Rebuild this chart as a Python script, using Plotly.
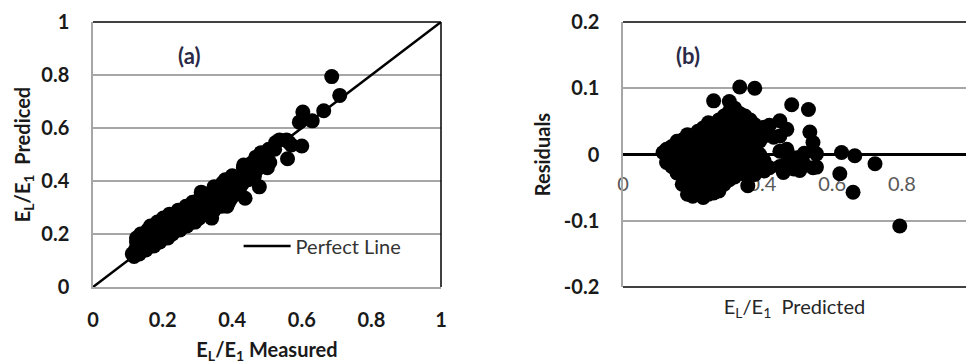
import plotly.graph_objects as go

# Model predictions (E_L/E_1) and residuals (measured - predicted)
predicted = [
    0.115,
    0.125, 0.125,
    0.14, 0.14, 0.14,
    0.155, 0.155, 0.155, 0.155,
    0.17, 0.17, 0.17, 0.17, 0.17,
    0.185, 0.185, 0.185, 0.185, 0.185, 0.185, 0.185,
    0.2, 0.2, 0.2, 0.2, 0.2, 0.2, 0.2,
    0.215, 0.215, 0.215, 0.215, 0.215, 0.215, 0.215,
    0.23, 0.23, 0.23, 0.23, 0.23, 0.23, 0.23, 0.23,
    0.245, 0.245, 0.245, 0.245, 0.245, 0.245, 0.245, 0.245,
    0.26, 0.26, 0.26, 0.26, 0.26, 0.26, 0.26, 0.26,
    0.275, 0.275, 0.275, 0.275, 0.275, 0.275, 0.275,
    0.29, 0.29, 0.29, 0.29, 0.29, 0.29, 0.29,
    0.305, 0.305, 0.305, 0.305, 0.305, 0.305, 0.305, 0.305,
    0.32, 0.32, 0.32, 0.32, 0.32, 0.32, 0.32,
    0.335, 0.335, 0.335, 0.335, 0.335, 0.335, 0.335,
    0.35, 0.35, 0.35, 0.35, 0.35, 0.35,
    0.358,
    0.365, 0.365, 0.365, 0.365, 0.365,
    0.378, 0.378, 0.378, 0.378, 0.378, 0.378,
    0.392, 0.392, 0.392, 0.392,
    0.405, 0.405, 0.405, 0.405,
    0.42, 0.42,
    0.432,
    0.45, 0.45, 0.45, 0.45,
    0.46,
    0.47, 0.47, 0.47,
    0.484,
    0.49, 0.49,
    0.507, 0.507,
    0.52, 0.52,
    0.532,
    0.536,
    0.545, 0.545,
    0.555, 0.555,
    0.622,
    0.627,
    0.66,
    0.665,
    0.723,
    0.794,
]

residual = [
    0.003,
    -0.012, 0.008,
    -0.018, 0.0, 0.012,
    -0.028, -0.01, 0.008, 0.02,
    -0.045, -0.025, -0.005, 0.012, 0.022,
    -0.06, -0.05, -0.035, -0.015, 0.005, 0.02, 0.03,
    -0.063, -0.052, -0.04, -0.02, 0.0, 0.015, 0.028,
    -0.058, -0.045, -0.03, -0.01, 0.01, 0.025, 0.035,
    -0.065, -0.055, -0.04, -0.022, -0.005, 0.012, 0.03, 0.04,
    -0.06, -0.048, -0.03, -0.012, 0.005, 0.022, 0.038, 0.048,
    -0.058, -0.045, -0.025, -0.008, 0.01, 0.028, 0.045, 0.081,
    -0.055, -0.038, -0.02, 0.0, 0.018, 0.035, 0.052,
    -0.045, -0.03, -0.012, 0.005, 0.022, 0.04, 0.058,
    -0.038, -0.02, -0.003, 0.015, 0.032, 0.05, 0.065, 0.08,
    -0.034, -0.015, 0.002, 0.02, 0.038, 0.055, 0.07,
    -0.028, -0.01, 0.01, 0.028, 0.045, 0.062, 0.102,
    -0.03, -0.012, 0.005, 0.022, 0.04, 0.058,
    -0.047,
    -0.02, 0.0, 0.018, 0.035, 0.052,
    -0.03, -0.01, 0.01, 0.03, 0.045, 0.1,
    -0.02, 0.0, 0.02, 0.038,
    -0.025, -0.01, 0.028, 0.041,
    -0.02, 0.044,
    0.026,
    -0.018, 0.005, 0.028, 0.051,
    -0.027,
    -0.012, 0.008, 0.038,
    0.075,
    -0.022, -0.005,
    -0.024, -0.004,
    -0.015, 0.002,
    0.068,
    0.034,
    -0.02, 0.018,
    -0.019, 0.001,
    -0.029,
    0.003,
    -0.057,
    -0.002,
    -0.014,
    -0.108,
]

# Measured values follow from prediction + residual
measured = [p + r for p, r in zip(predicted, residual)]

# 1:1 reference line
perfect_x = [0, 1]
perfect_y = [0, 1]

# Tick labels
a_ticks = [0, 0.2, 0.4, 0.6, 0.8, 1]
a_labels = ["0", "0.2", "0.4", "0.6", "0.8", "1"]
b_x_ticks = [0, 0.2, 0.4, 0.6, 0.8, 1]
b_x_labels = ["0", "0.2", "0.4", "0.6", "0.8", "1"]
b_y_ticks = [-0.2, -0.1, 0, 0.1, 0.2]
b_y_labels = ["-0.2", "-0.1", "0", "0.1", "0.2"]

FONT = "Lato, 'Open Sans', sans-serif"
GRID = "#a6a6a6"
BLACK = "#000000"
TEXT = "#1a1a1a"

fig = go.Figure()

# ---- panel (a): predicted vs measured ----
fig.add_trace(go.Scatter(
    x=perfect_x, y=perfect_y, mode="lines", name="Perfect Line",
    line=dict(color=BLACK, width=2.5), xaxis="x", yaxis="y",
    showlegend=True,
))
fig.add_trace(go.Scatter(
    x=measured, y=predicted, mode="markers",
    marker=dict(color=BLACK, size=15, line=dict(width=0)),
    xaxis="x", yaxis="y", showlegend=False,
))

# ---- panel (b): residuals vs predicted ----
fig.add_trace(go.Scatter(
    x=predicted, y=residual, mode="markers",
    marker=dict(color=BLACK, size=15, line=dict(width=0)),
    xaxis="x2", yaxis="y2", showlegend=False,
))

W, H = 966, 364
ya_dom = [1 - 287 / H, 1 - 22 / H]
xa_dom = [93 / W, 441 / W]
xb_dom = [623 / W, 1.0]
zero_pos = (ya_dom[0] + ya_dom[1]) / 2

bold_tick = dict(family=FONT, size=20, color=TEXT, weight="bold")
title_font = dict(family=FONT, size=20, color=TEXT, weight="bold")

fig.update_layout(
    width=W, height=H,
    margin=dict(l=0, r=0, t=0, b=0, autoexpand=False),
    paper_bgcolor="white", plot_bgcolor="white",
    font=dict(family=FONT, color=TEXT),
    xaxis=dict(
        domain=xa_dom, range=[0, 1], anchor="y",
        tickvals=a_ticks, ticktext=a_labels,
        showgrid=False, zeroline=False,
        showline=True, linecolor=GRID, linewidth=1.5,
        ticks="", tickfont=bold_tick, ticklabelstandoff=14,
        title=dict(text="E<sub>L</sub>/E<sub>1</sub> Measured",
                   font=title_font, standoff=17),
    ),
    yaxis=dict(
        domain=ya_dom, range=[0, 1], anchor="x",
        tickvals=a_ticks, ticktext=a_labels,
        showgrid=True, gridcolor=GRID, gridwidth=1.5,
        zeroline=False, showline=True, linecolor=GRID, linewidth=1.5,
        ticks="", tickfont=bold_tick, ticklabelstandoff=18,
        title=dict(text="E<sub>L</sub>/E<sub>1</sub>  Prediced",
                   font=title_font, standoff=5),
    ),
    xaxis2=dict(
        domain=xb_dom, range=[0, 0.984], anchor="free", position=zero_pos,
        tickvals=b_x_ticks, ticktext=b_x_labels,
        showgrid=False, zeroline=False, showline=False,
        ticks="", layer="below traces",
        tickfont=dict(family=FONT, size=20, color="#595959"),
        ticklabelstandoff=15,
        title=dict(text="E<sub>L</sub>/E<sub>1</sub>  Predicted",
                   font=dict(family=FONT, size=20, color="#262626"),
                   standoff=106),
    ),
    yaxis2=dict(
        domain=ya_dom, range=[-0.2, 0.2], anchor="x2",
        tickvals=b_y_ticks, ticktext=b_y_labels,
        showgrid=True, gridcolor=GRID, gridwidth=1.5,
        zeroline=True, zerolinecolor=BLACK, zerolinewidth=2.5,
        showline=True, linecolor=GRID, linewidth=1.5,
        ticks="", tickfont=bold_tick, ticklabelstandoff=18,
        title=dict(text="Residuals", font=title_font, standoff=8),
    ),
    legend=dict(
        x=0.247, y=1 - 246 / H, xanchor="left", yanchor="middle",
        bgcolor="rgba(0,0,0,0)", borderwidth=0,
        font=dict(family=FONT, size=20, color="#333333"),
        itemwidth=47,
    ),
    shapes=[
        # dark frame edges of panel (a)
        dict(type="line", xref="x domain", yref="y domain", x0=0, x1=1, y0=1, y1=1,
             line=dict(color=BLACK, width=1.5)),
        dict(type="line", xref="x domain", yref="y domain", x0=1, x1=1, y0=0, y1=1,
             line=dict(color=BLACK, width=1.5)),
        # dark frame edges of panel (b)
        dict(type="line", xref="x2 domain", yref="y2 domain", x0=0, x1=1, y0=1, y1=1,
             line=dict(color=BLACK, width=1.5)),
        dict(type="line", xref="x2 domain", yref="y2 domain", x0=0, x1=1, y0=0, y1=0,
             line=dict(color=BLACK, width=1.5)),
    ],
    annotations=[
        dict(text="(a)", x=0.275, y=0.875, xref="x", yref="y", showarrow=False,
             font=dict(family=FONT, size=22, color="#2a2a48", weight="bold")),
        dict(text="(b)", x=0.186, y=0.149, xref="x2", yref="y2", showarrow=False,
             font=dict(family=FONT, size=22, color="#2a2a48", weight="bold")),
    ],
)

fig.write_html("out.html")
